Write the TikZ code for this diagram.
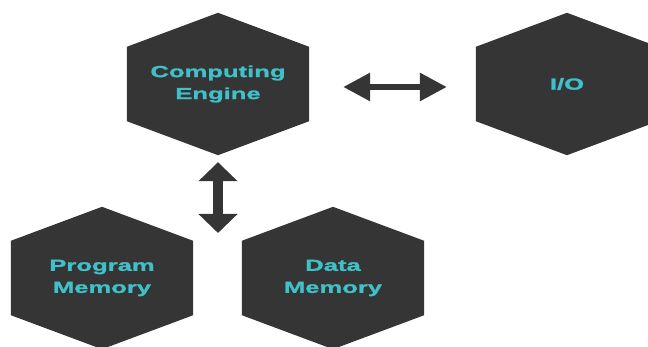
\documentclass[tikz,border=0pt]{standalone}
\usepackage{fontspec}
\usetikzlibrary{arrows.meta,backgrounds}
\newfontfamily\hexfont[FakeStretch=1.6,BoldFeatures={FakeBold=1.5}]{Liberation Sans}
\definecolor{hexgray}{HTML}{353535}
\definecolor{hexcyan}{HTML}{40C0C8}
\tikzset{
  hexnode/.style={minimum width=182pt,minimum height=142pt,inner sep=0pt,align=center,
    text=hexcyan,font=\hexfont\bfseries\fontsize{16}{22}\selectfont},
  hexfill/.style={fill=hexgray},
  dblar/.style={{Triangle[length=27pt,width=27pt]}-{Triangle[length=27pt,width=27pt]},line width=6pt,draw=hexgray},
  dblarv/.style={{Triangle[length=19pt,width=38pt]}-{Triangle[length=19pt,width=38pt]},line width=10pt,draw=hexgray},
}

\begin{document}
\begin{tikzpicture}[x=1pt,y=-1pt]
  \useasboundingbox (0,0) rectangle (648,347);
  \node[hexnode] (engine) at (218,84) {Computing\\Engine};
  \node[hexnode] (io) at (567,84) {I/O};
  \node[hexnode] (progmem) at (102,278) {Program\\Memory};
  \node[hexnode] (datamem) at (333,278) {Data\\Memory};
  \coordinate (mem) at (218,233);
  % hexagons behind the labels
  \begin{scope}[on background layer]
    \clip (0,0) rectangle (648,347);
    \foreach \n in {engine,io,progmem,datamem}
      \fill[hexfill] (\n.north) -- ([yshift=-34pt]\n.north east) -- ([yshift=34pt]\n.south east)
        -- (\n.south) -- ([yshift=34pt]\n.south west) -- ([yshift=-34pt]\n.north west) -- cycle;
  \end{scope}
  \draw[dblar,shorten <=34pt,shorten >=29pt] ([yshift=-3pt]engine.east) -- ([yshift=-3pt]io.west);
  \draw[dblarv,shorten <=7pt] (engine.south) -- (mem);
\end{tikzpicture}
\end{document}
